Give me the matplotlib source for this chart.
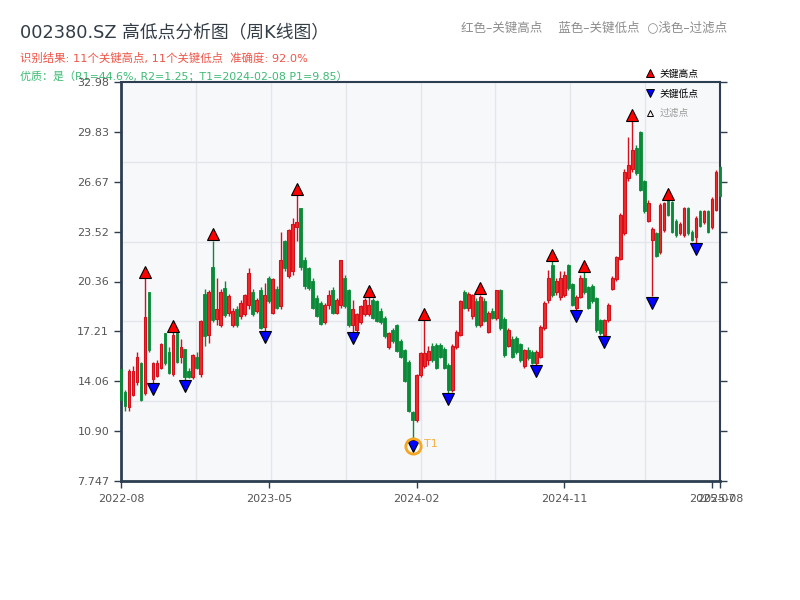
import numpy as np
import pandas as pd
import matplotlib
matplotlib.use("Agg")
import matplotlib.pyplot as plt
from matplotlib.lines import Line2D
from matplotlib.transforms import offset_copy

plt.rcParams['font.family'] = ['DejaVu Sans', 'Noto Sans CJK SC']

# ---------------- data ----------------
# weekly bars (week-ending Fridays), weeks with no trading removed
holiday_weeks = ['2022-10-07', '2023-01-27', '2023-10-06', '2024-02-16']
raw_weeks = pd.date_range('2022-08-26', periods=155, freq='W-FRI')
dates = raw_weeks[~raw_weeks.isin(pd.to_datetime(holiday_weeks))]

opens = [14.8, 13.4, 12.4, 13.2, 14.0, 15.2, 13.3, 19.7, 14.2, 14.4,
         14.9, 17.1, 15.9, 14.5, 17.1, 15.6, 16.1, 14.7, 14.3, 15.6,
         14.5, 19.6, 17.0, 21.3, 18.0, 17.6, 19.95, 18.37, 17.6, 18.6,
         18.2, 18.3, 18.9, 19.7, 18.5, 19.8, 17.5, 20.6, 18.4, 19.9,
         18.8, 22.9, 20.7, 21.0, 23.8, 25.0, 21.74, 21.2, 20.4, 19.3,
         19.0, 17.8, 18.9, 19.8, 18.4, 18.9, 20.6, 19.8, 17.6, 17.3,
         17.8, 18.3, 18.3, 19.2, 19.1, 18.5, 18.05, 16.2, 17.3, 17.6,
         16.6, 16.0, 15.3, 12.1, 11.6, 14.48, 15.0, 15.4, 16.3, 16.37,
         16.37, 16.1, 15.1, 13.5, 16.2, 17.0, 19.7, 18.7, 18.2, 19.1,
         17.6, 19.1, 17.2, 18.5, 18.05, 19.8, 18.0, 16.3, 16.7, 16.8,
         16.4, 15.0, 16.0, 15.9, 15.2, 15.6, 17.4, 19.2, 21.4, 19.7,
         19.4, 19.5, 21.4, 20.2, 18.7, 19.4, 20.6, 20.0, 20.1, 19.3,
         17.9, 17.0, 17.9, 19.9, 20.5, 21.8, 23.4, 26.9, 27.5, 28.8,
         29.8, 26.7, 24.2, 23.0, 23.4, 22.2, 23.6, 25.5, 25.4, 24.2,
         23.4, 23.3, 25.0, 23.5, 23.2, 24.8, 24.1, 24.8, 23.8, 24.9,
         27.6]
highs = [15.0, 13.5, 14.8, 15.0, 15.9, 15.3, 20.6, 19.7, 15.3, 15.4,
         16.5, 17.1, 16.2, 17.15, 17.1, 16.7, 16.1, 14.9, 15.8, 15.9,
         17.9, 19.9, 19.8, 22.95, 20.6, 19.9, 20.4, 19.6, 18.7, 18.8,
         19.2, 19.6, 21.2, 19.9, 19.3, 20.0, 20.3, 20.7, 20.6, 20.1,
         23.5, 23.0, 23.7, 24.4, 25.84, 25.0, 21.9, 21.3, 20.6, 19.5,
         19.1, 19.0, 19.8, 20.0, 19.3, 21.75, 20.8, 19.9, 19.2, 18.4,
         18.9, 19.3, 19.36, 19.3, 19.2, 18.7, 18.2, 17.2, 17.4, 17.7,
         16.7, 16.1, 15.4, 12.2, 14.5, 15.9, 17.9, 16.3, 16.5, 16.5,
         16.5, 16.2, 15.2, 16.4, 17.3, 19.2, 19.8, 19.7, 19.6, 19.3,
         19.53, 19.3, 18.5, 18.7, 19.85, 19.9, 18.1, 17.4, 16.9, 16.9,
         16.5, 16.1, 16.2, 16.0, 16.0, 17.6, 19.1, 21.1, 21.63, 20.6,
         21.0, 21.0, 21.5, 20.3, 19.5, 20.8, 20.94, 20.1, 20.2, 19.4,
         18.0, 18.0, 19.0, 20.7, 22.0, 24.7, 27.5, 29.5, 30.5, 29.0,
         29.9, 26.8, 25.5, 23.8, 23.5, 25.3, 25.4, 25.52, 25.45, 24.3,
         24.1, 25.1, 25.1, 23.6, 24.5, 24.9, 24.9, 24.9, 25.7, 27.4,
         27.7]
lows = [12.6, 12.2, 12.2, 13.1, 13.8, 12.8, 13.2, 15.9, 13.95, 14.3,
        14.8, 15.1, 14.5, 14.4, 15.2, 15.2, 14.16, 14.25, 14.2, 14.8,
        14.3, 16.3, 16.5, 17.8, 17.6, 17.5, 18.1, 18.2, 17.5, 17.5,
        18.0, 18.2, 18.6, 18.2, 18.4, 17.35, 17.26, 19.0, 18.3, 18.6,
        18.6, 21.0, 20.6, 20.8, 22.9, 21.1, 19.9, 19.8, 18.6, 18.1,
        17.6, 17.7, 18.6, 18.3, 18.3, 18.7, 18.7, 17.5, 17.17, 17.2,
        17.7, 18.2, 18.2, 18.0, 17.8, 17.7, 16.8, 16.1, 16.5, 15.9,
        15.5, 14.0, 12.1, 10.38, 11.5, 14.3, 14.9, 15.1, 15.3, 14.8,
        15.5, 14.8, 13.33, 13.4, 16.1, 16.9, 18.6, 18.5, 18.0, 17.5,
        17.5, 17.8, 17.1, 18.0, 17.9, 17.3, 15.6, 16.2, 15.5, 15.8,
        15.3, 14.9, 15.4, 15.15, 15.11, 15.5, 17.3, 19.0, 19.4, 19.5,
        19.2, 19.4, 19.8, 18.8, 18.58, 19.3, 19.6, 18.6, 19.0, 17.2,
        17.0, 16.94, 17.8, 19.8, 20.4, 21.7, 23.3, 26.7, 27.3, 27.1,
        26.1, 24.7, 24.1, 19.42, 21.9, 22.1, 23.5, 24.5, 23.4, 23.2,
        23.3, 23.2, 23.3, 22.9, 22.79, 23.8, 24.0, 23.4, 23.7, 24.8,
        25.7]
closes = [12.9, 12.5, 14.7, 14.7, 15.6, 12.9, 18.1, 16.0, 15.2, 15.2,
          16.4, 15.2, 14.6, 17.0, 15.3, 16.2, 14.3, 14.35, 15.7, 14.9,
          17.85, 16.9, 19.7, 17.95, 18.65, 19.67, 18.27, 19.42, 18.5, 17.6,
          19.0, 19.5, 20.9, 18.3, 19.2, 17.4, 19.5, 19.1, 20.5, 18.7,
          21.7, 21.2, 23.6, 24.0, 24.1, 21.3, 20.05, 19.95, 18.7, 18.2,
          17.7, 18.9, 19.5, 18.4, 19.2, 21.7, 18.8, 17.6, 18.6, 18.3,
          18.8, 19.2, 18.9, 18.05, 17.85, 17.8, 16.9, 17.1, 16.6, 15.95,
          15.6, 14.1, 12.2, 11.6, 14.48, 15.85, 15.85, 15.95, 15.4, 14.9,
          15.6, 14.9, 13.5, 16.27, 17.2, 19.1, 18.7, 19.6, 19.5, 17.6,
          19.4, 17.85, 18.4, 18.05, 19.8, 17.4, 15.7, 17.3, 15.6, 15.9,
          15.4, 16.0, 15.5, 15.2, 15.9, 17.5, 19.0, 20.6, 19.5, 20.4,
          20.6, 20.8, 19.95, 18.9, 19.4, 20.6, 19.7, 18.7, 19.1, 17.3,
          17.1, 17.9, 18.9, 20.6, 21.9, 24.6, 27.3, 27.7, 28.7, 27.2,
          26.15, 24.8, 25.3, 23.7, 21.95, 25.2, 25.3, 24.6, 23.5, 23.3,
          24.0, 25.0, 23.4, 23.0, 24.4, 23.9, 24.8, 23.5, 25.6, 27.3,
          25.8]

key_high_idx = [6, 13, 23, 44, 62, 76, 90, 108, 116, 128, 137]
key_low_idx = [8, 16, 36, 58, 73, 82, 104, 114, 121, 133, 144]
t1_idx = 73

Y_MIN, Y_MAX = 7.747, 32.98

title = "002380.SZ 高低点分析图（周K线图）"
line_result = "识别结果: 11个关键高点, 11个关键低点  准确度: 92.0%"
line_quality = "优质：是（R1=44.6%, R2=1.25；T1=2024-02-08 P1=9.85）"
top_note = "红色–关键高点    蓝色–关键低点  ○浅色–过滤点"

# ---------------- plot ----------------
o = np.array(opens); h = np.array(highs); l = np.array(lows); c = np.array(closes)
n = len(o)
x = np.arange(n)

fig = plt.figure(figsize=(8, 6), dpi=100)
fig.patch.set_facecolor('white')
ax = fig.add_axes([121/800, 1-481/600, 599/800, 399/600])
ax.set_facecolor('#f7f8fa')

up = c >= o
RED_E, RED_F = '#d4101c', '#f02a2a'
GREEN = '#0a8a38'

# wicks
ax.vlines(x[up], l[up], h[up], color=RED_E, lw=1.0, zorder=2, clip_on=False)
ax.vlines(x[~up], l[~up], h[~up], color=GREEN, lw=1.0, zorder=2, clip_on=False)
# bodies
body_lo = np.minimum(o, c)
body_h = np.maximum(np.abs(c - o), 0.05)
ax.bar(x[up], body_h[up], bottom=body_lo[up], width=0.7, color=RED_F,
       edgecolor=RED_E, linewidth=0.8, zorder=3, clip_on=False)
ax.bar(x[~up], body_h[~up], bottom=body_lo[~up], width=0.7, color=GREEN,
       edgecolor=GREEN, linewidth=0.6, zorder=3, clip_on=False)

# key points
ms = 9
up_tr = offset_copy(ax.transData, fig=fig, y=ms/2, units='points')
dn_tr = offset_copy(ax.transData, fig=fig, y=-ms/2, units='points')
ax.plot(x[key_high_idx], h[key_high_idx], ls='none', marker='^', ms=ms,
        mfc='#ff0000', mec='black', mew=0.8, transform=up_tr, zorder=5)
ax.plot(x[key_low_idx], l[key_low_idx], ls='none', marker='v', ms=ms,
        mfc='#0000ff', mec='black', mew=0.8, transform=dn_tr, zorder=5)
# T1 ring
ax.plot([t1_idx], [l[t1_idx]], ls='none', marker='o', ms=11, mfc='none',
        mec='#f5a623', mew=2, transform=dn_tr, zorder=6)
t1_tr = offset_copy(ax.transData, fig=fig, x=8, y=-ms/2 + 1, units='points')
ax.text(t1_idx, l[t1_idx], 'T1', transform=t1_tr, color='#f5b041',
        fontsize=8, va='center', ha='left', zorder=6)

# axes
ax.set_xlim(0, n - 1)
ax.set_ylim(Y_MIN, Y_MAX)
step = n // 4
xt = list(range(0, n, step)) + [n - 1]
ax.set_xticks(xt)
ax.set_xticklabels([dates[i].strftime('%Y-%m') for i in xt])
yt = np.linspace(Y_MIN, Y_MAX, 9)
ax.set_yticks(yt)
ax.set_yticklabels(['{:#.4g}'.format(v) for v in yt])

for v in np.linspace(Y_MIN, Y_MAX, 6)[1:-1]:
    ax.axhline(v, color='#e3e6eb', lw=1, zorder=0.5)
for v in np.linspace(0, n - 1, 9)[1:-1]:
    ax.axvline(v, color='#e3e6eb', lw=1, zorder=0.5)

SP = '#2c3e50'
for side, lw in (('left', 2), ('bottom', 2), ('top', 1.5), ('right', 1.5)):
    ax.spines[side].set_color(SP)
    ax.spines[side].set_linewidth(lw)
ax.tick_params(axis='y', which='both', left=True, right=True, length=5,
               width=1, color=SP, labelcolor='#555555', labelsize=8, direction='out')
ax.tick_params(axis='x', length=5, width=1, color=SP, labelcolor='#555555',
               labelsize=8, direction='out', pad=4)

# legend
handles = [
    Line2D([], [], ls='none', marker='^', ms=6, mfc='#ff0000', mec='black', mew=0.7),
    Line2D([], [], ls='none', marker='v', ms=6, mfc='#0000ff', mec='black', mew=0.7),
    Line2D([], [], ls='none', marker='^', ms=4.5, mfc='#fff5f5', mec='black', mew=0.7),
]
leg = fig.legend(handles, ['关键高点', '关键低点', '过滤点'], loc='upper left',
                 bbox_to_anchor=(638/800, 1-62/600), frameon=False, fontsize=7,
                 handlelength=1.0, handletextpad=0.5, labelspacing=1.0,
                 borderpad=0.2)
leg.get_texts()[2].set_color('#999999')

# texts
fig.text(20/800, 1-33/600, title, fontsize=12.8, color='#333d47', va='center', ha='left')
fig.text(20/800, 1-58/600, line_result, fontsize=8.2, color='#ef5548', va='center', ha='left')
fig.text(20/800, 1-76/600, line_quality, fontsize=7.95, color='#3dbb74', va='center',
         ha='left', zorder=-1)
fig.text(727/800, 1-28/600, top_note, fontsize=9, color='#8c8c8c', va='center', ha='right')

fig.savefig('out.png', dpi=100)
